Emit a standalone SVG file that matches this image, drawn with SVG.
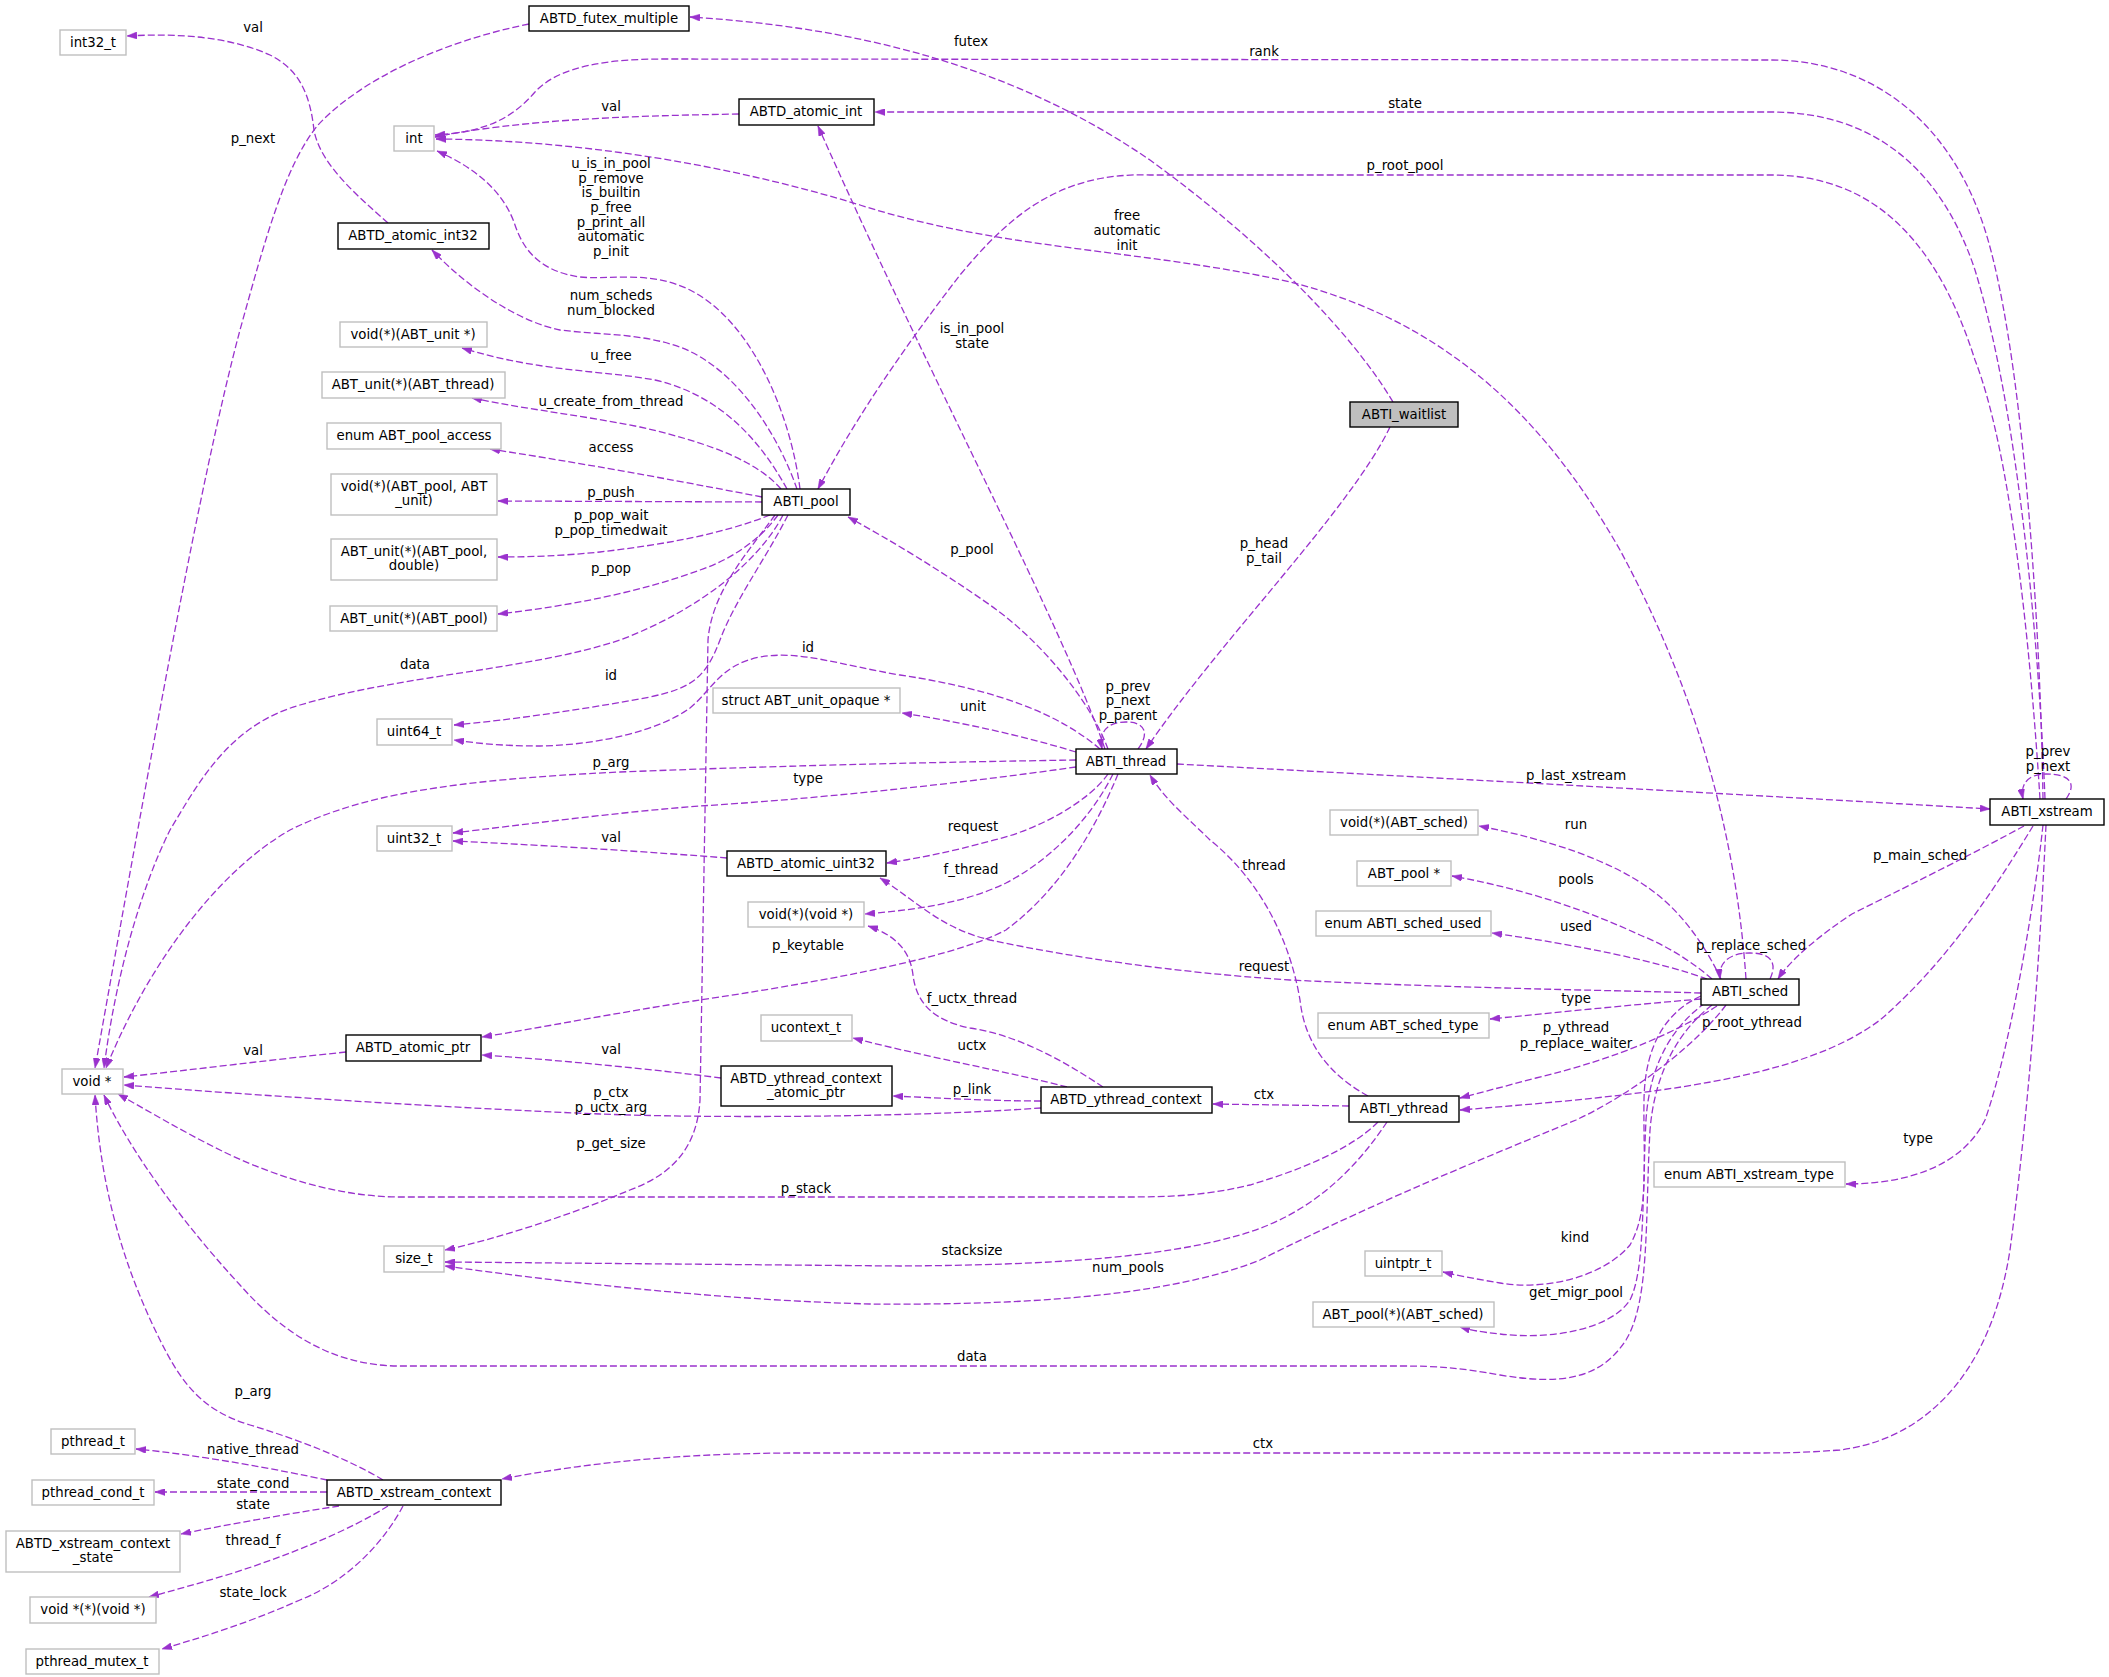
<svg xmlns="http://www.w3.org/2000/svg" width="2109" height="1677" viewBox="0 0 2109 1677">
<style>
text{font-family:"DejaVu Sans","Liberation Sans",sans-serif;font-size:13.3px;fill:#000;text-anchor:middle}
.d{fill:#fff;stroke:#000;stroke-width:1.4}
.u{fill:#fff;stroke:#bfbfbf;stroke-width:1.4}
.g{fill:#bfbfbf;stroke:#000;stroke-width:1.4}
#edges path{fill:none;stroke:#9a32cd;stroke-width:1.3;stroke-dasharray:7,3;marker-end:url(#ah)}
</style>
<defs>
<marker id="ah" viewBox="0 0 10 7" refX="10" refY="3.5" markerWidth="10" markerHeight="7" markerUnits="userSpaceOnUse" orient="auto">
<path d="M0,0 L10,3.5 L0,7 z" fill="#9a32cd" stroke="#9a32cd" stroke-width="0.5"/>
</marker>
</defs>
<rect width="2109" height="1677" fill="#fff"/>
<g id="edges">
<g><path d="M388,223 C360,198 320,165 314,130 C310,95 300,70 270,55 C230,37 180,33 127,36"/><text x="253" y="32">val</text></g>
<g><path d="M529,24 C440,42 360,80 318,125 C285,165 265,240 240,330 C200,480 150,760 95,1068"/><text x="253" y="143">p_next</text></g>
<g><path d="M1393,402 C1350,330 1260,240 1150,160 C1040,85 900,30 690,17"/><text x="971" y="46">futex</text></g>
<g><path d="M1390,427 C1350,510 1220,640 1146,749"/><text x="1264" y="548">p_head</text><text x="1264" y="563">p_tail</text></g>
<g><path d="M2043,799 C2040,600 2020,340 1985,230 C1950,120 1870,60 1771,60 L665,59 C610,59 560,65 535,92 C515,115 490,132 435,135"/><text x="1264" y="56">rank</text></g>
<g><path d="M2045,799 C2038,620 2015,400 1975,270 C1940,165 1870,112 1771,112 L875,112"/><text x="1405" y="108">state</text></g>
<g><path d="M2040,799 C2030,640 2010,450 1975,360 C1940,250 1880,175 1771,175 L1150,175 C1060,172 1010,215 960,275 C910,340 860,410 818,489"/><text x="1405" y="170">p_root_pool</text></g>
<g><path d="M739,114 C620,116 520,120 435,137"/><text x="611" y="111">val</text></g>
<g><path d="M1746,979 C1735,820 1690,680 1620,550 C1540,410 1440,320 1290,282 C1150,250 1000,250 860,205 C720,162 570,140 436,139"/><text x="1127" y="220">free</text><text x="1127" y="235">automatic</text><text x="1127" y="250">init</text></g>
<g><path d="M1105,749 C1060,620 940,400 818,126"/><text x="972" y="333">is_in_pool</text><text x="972" y="348">state</text></g>
<g><path d="M800,489 C790,410 750,320 690,290 C650,270 610,280 580,277 C545,272 525,255 515,225 C505,195 480,170 437,151"/><text x="611" y="168">u_is_in_pool</text><text x="611" y="183">p_remove</text><text x="611" y="197">is_builtin</text><text x="611" y="212">p_free</text><text x="611" y="227">p_print_all</text><text x="611" y="241">automatic</text><text x="611" y="256">p_init</text></g>
<g><path d="M797,489 C780,440 740,370 680,347 C640,333 600,335 560,330 C520,322 470,290 432,250"/><text x="611" y="300">num_scheds</text><text x="611" y="315">num_blocked</text></g>
<g><path d="M787,489 C760,440 720,395 655,380 C600,370 540,372 462,348"/><text x="611" y="360">u_free</text></g>
<g><path d="M781,489 C760,465 720,445 640,427 C580,415 530,410 472,398"/><text x="611" y="406">u_create_from_thread</text></g>
<g><path d="M762,497 C700,485 600,466 490,449"/><text x="611" y="452">access</text></g>
<g><path d="M762,502 L498,501"/><text x="611" y="497">p_push</text></g>
<g><path d="M770,515 C720,535 660,545 600,552 C560,556 530,557 498,557"/><text x="611" y="520">p_pop_wait</text><text x="611" y="535">p_pop_timedwait</text></g>
<g><path d="M778,515 C760,540 730,560 700,570 C640,592 570,606 498,614"/><text x="611" y="573">p_pop</text></g>
<g><path d="M783,515 C760,560 700,610 620,640 C530,670 400,675 300,705 C230,725 200,780 170,830 C140,890 115,980 104,1068"/><text x="415" y="669">data</text></g>
<g><path d="M788,515 C765,560 735,600 720,640 C705,680 690,688 650,697 C580,710 510,720 454,725"/><text x="611" y="680">id</text></g>
<g><path d="M1100,749 C1060,715 1000,690 900,675 C840,665 800,650 760,657 C720,665 712,690 690,708 C660,730 600,745 540,746 C500,746 475,743 454,740"/><text x="808" y="652">id</text></g>
<g><path d="M775,515 C750,550 712,590 708,640 L700,1100 C697,1150 670,1175 630,1190 C570,1215 500,1238 445,1250"/><text x="611" y="1148">p_get_size</text></g>
<g><path d="M1108,749 C1090,700 1040,640 990,605 C940,570 890,540 848,517"/><text x="972" y="554">p_pool</text></g>
<g><path d="M1138,749 C1150,733 1145,722 1126,722 C1106,722 1099,733 1102,749"/><text x="1128" y="691">p_prev</text><text x="1128" y="705">p_next</text><text x="1128" y="720">p_parent</text></g>
<g><path d="M1076,752 C1020,735 960,722 902,713"/><text x="973" y="711">unit</text></g>
<g><path d="M1076,760 C950,762 800,765 620,772 C450,780 360,795 290,830 C220,870 150,960 106,1068"/><text x="611" y="767">p_arg</text></g>
<g><path d="M1076,767 C950,785 800,800 700,806 C620,812 520,825 453,833"/><text x="808" y="783">type</text></g>
<g><path d="M727,858 C650,852 560,846 453,841"/><text x="611" y="842">val</text></g>
<g><path d="M1108,774 C1090,800 1040,830 990,841 C950,852 920,858 887,863"/><text x="973" y="831">request</text></g>
<g><path d="M1113,774 C1090,820 1050,860 1006,883 C960,905 910,910 865,914"/><text x="971" y="874">f_thread</text></g>
<g><path d="M1118,774 C1095,830 1060,890 1006,930 C950,960 800,985 700,1000 C620,1012 540,1028 482,1037"/><text x="808" y="950">p_keytable</text></g>
<g><path d="M721,1078 C660,1070 560,1060 482,1055"/><text x="611" y="1054">val</text></g>
<g><path d="M346,1052 C270,1060 190,1070 124,1077"/><text x="253" y="1055">val</text></g>
<g><path d="M1041,1108 C900,1118 700,1118 600,1114 C450,1108 250,1095 124,1085"/><text x="611" y="1097">p_ctx</text><text x="611" y="1112">p_uctx_arg</text></g>
<g><path d="M1041,1101 C990,1101 940,1098 893,1096"/><text x="972" y="1094">p_link</text></g>
<g><path d="M1067,1087 C1010,1072 930,1058 853,1038"/><text x="972" y="1050">uctx</text></g>
<g><path d="M1103,1087 C1070,1065 1020,1035 970,1028 C930,1020 916,1000 913,975 C910,950 895,935 868,926"/><text x="972" y="1003">f_uctx_thread</text></g>
<g><path d="M1349,1106 L1213,1104"/><text x="1264" y="1099">ctx</text></g>
<g><path d="M1368,1096 C1330,1075 1305,1045 1300,1000 C1290,940 1260,880 1210,840 C1190,820 1165,800 1150,775"/><text x="1264" y="870">thread</text></g>
<g><path d="M1378,1122 C1350,1150 1300,1170 1250,1185 C1200,1197 1160,1197 1120,1197 L400,1197 C330,1197 260,1170 220,1150 C180,1130 150,1112 118,1094"/><text x="806" y="1193">p_stack</text></g>
<g><path d="M1387,1122 C1355,1170 1310,1215 1240,1235 C1160,1258 1050,1265 900,1266 L445,1262"/><text x="972" y="1255">stacksize</text></g>
<g><path d="M1726,1005 C1700,1040 1640,1090 1576,1120 C1480,1160 1380,1200 1260,1260 C1160,1300 1000,1305 870,1304 C720,1300 560,1282 445,1266"/><text x="1128" y="1272">num_pools</text></g>
<g><path d="M1177,764 C1400,776 1700,792 1990,809"/><text x="1576" y="780">p_last_xstream</text></g>
<g><path d="M1721,979 C1705,945 1680,910 1650,889 C1610,860 1550,840 1479,826"/><text x="1576" y="829">run</text></g>
<g><path d="M1712,979 C1690,960 1665,945 1640,935 C1590,912 1530,890 1452,876"/><text x="1576" y="884">pools</text></g>
<g><path d="M1707,979 C1660,962 1580,945 1492,933"/><text x="1576" y="931">used</text></g>
<g><path d="M1701,993 C1600,990 1450,988 1290,980 C1170,972 1070,957 990,940 C940,928 915,900 880,878"/><text x="1264" y="971">request</text></g>
<g><path d="M1701,999 C1630,1005 1560,1012 1490,1019"/><text x="1576" y="1003">type</text></g>
<g><path d="M1717,1006 C1680,1030 1620,1058 1536,1078 C1510,1085 1490,1090 1460,1098"/><text x="1576" y="1032">p_ythread</text><text x="1576" y="1048">p_replace_waiter</text></g>
<g><path d="M2033,826 C2000,880 1950,960 1880,1020 C1800,1080 1650,1095 1460,1110"/><text x="1752" y="1027">p_root_ythread</text></g>
<g><path d="M2024,826 C1980,850 1920,880 1852,914 C1820,935 1790,960 1778,979"/><text x="1920" y="860">p_main_sched</text></g>
<g><path d="M1770,979 C1778,962 1770,953 1750,953 C1730,953 1718,962 1720,979"/><text x="1751" y="950">p_replace_sched</text></g>
<g><path d="M1701,996 C1670,1010 1645,1040 1644,1100 C1643,1160 1650,1210 1630,1245 C1600,1280 1540,1290 1500,1283 C1470,1278 1455,1275 1443,1272"/><text x="1575" y="1242">kind</text></g>
<g><path d="M1705,1003 C1675,1025 1650,1060 1646,1120 C1642,1200 1645,1270 1630,1300 C1610,1330 1550,1340 1500,1334 C1480,1332 1470,1330 1460,1327"/><text x="1576" y="1297">get_migr_pool</text></g>
<g><path d="M1712,1005 C1680,1030 1655,1070 1650,1130 C1645,1220 1650,1300 1626,1340 C1600,1380 1560,1385 1500,1375 C1460,1368 1440,1366 1400,1366 L400,1366 C330,1366 280,1330 240,1285 C180,1220 130,1150 104,1095"/><text x="972" y="1361">data</text></g>
<g><path d="M383,1480 C350,1460 300,1440 250,1425 C200,1410 180,1380 160,1340 C120,1260 100,1180 95,1095"/><text x="253" y="1396">p_arg</text></g>
<g><path d="M2046,825 C2040,950 2030,1100 2010,1250 C1990,1380 1920,1440 1840,1450 C1800,1453 1780,1453 1750,1453 L800,1453 C700,1453 600,1460 502,1479"/><text x="1263" y="1448">ctx</text></g>
<g><path d="M2043,825 C2035,900 2010,1050 1985,1120 C1960,1170 1900,1184 1846,1184"/><text x="1918" y="1143">type</text></g>
<g><path d="M2066,799 C2078,782 2068,774 2046,774 C2028,774 2020,784 2023,799"/><text x="2048" y="756">p_prev</text><text x="2048" y="771">p_next</text></g>
<g><path d="M327,1480 C280,1470 200,1455 136,1449"/><text x="253" y="1454">native_thread</text></g>
<g><path d="M327,1492 L155,1492"/><text x="253" y="1488">state_cond</text></g>
<g><path d="M339,1506 C300,1512 240,1522 181,1534"/><text x="253" y="1509">state</text></g>
<g><path d="M388,1506 C350,1530 290,1555 230,1574 C200,1583 175,1590 149,1597"/><text x="253" y="1545">thread_f</text></g>
<g><path d="M403,1506 C385,1540 350,1580 300,1600 C250,1622 210,1635 162,1649"/><text x="253" y="1597">state_lock</text></g>
</g>
<g id="n_int32_t"><rect class="u" x="60" y="30" width="66" height="25"/><text x="93" y="47">int32_t</text></g>
<g id="n_ABTD_futex_multiple"><rect class="d" x="529" y="6" width="160" height="25"/><text x="609" y="23">ABTD_futex_multiple</text></g>
<g id="n_int"><rect class="u" x="394" y="126" width="40" height="25"/><text x="414" y="143">int</text></g>
<g id="n_ABTD_atomic_int"><rect class="d" x="739" y="99" width="135" height="26"/><text x="806" y="116">ABTD_atomic_int</text></g>
<g id="n_ABTD_atomic_int32"><rect class="d" x="338" y="223" width="151" height="26"/><text x="413" y="240">ABTD_atomic_int32</text></g>
<g id="n_void_unit"><rect class="u" x="340" y="322" width="147" height="25"/><text x="413" y="339">void(*)(ABT_unit *)</text></g>
<g id="n_unit_thread"><rect class="u" x="322" y="372" width="183" height="26"/><text x="413" y="389">ABT_unit(*)(ABT_thread)</text></g>
<g id="n_pool_access"><rect class="u" x="327" y="423" width="174" height="26"/><text x="414" y="440">enum ABT_pool_access</text></g>
<g id="n_void_pool_unit"><rect class="u" x="331" y="474" width="166" height="41"/><text x="414" y="491">void(*)(ABT_pool, ABT</text><text x="414" y="505">_unit)</text></g>
<g id="n_unit_pool_double"><rect class="u" x="331" y="539" width="166" height="41"/><text x="414" y="556">ABT_unit(*)(ABT_pool,</text><text x="414" y="570">double)</text></g>
<g id="n_unit_pool"><rect class="u" x="330" y="606" width="167" height="25"/><text x="414" y="623">ABT_unit(*)(ABT_pool)</text></g>
<g id="n_ABTI_pool"><rect class="d" x="762" y="489" width="88" height="26"/><text x="806" y="506">ABTI_pool</text></g>
<g id="n_ABTI_waitlist"><rect class="g" x="1350" y="402" width="108" height="25"/><text x="1404" y="419">ABTI_waitlist</text></g>
<g id="n_uint64_t"><rect class="u" x="377" y="719" width="75" height="26"/><text x="414" y="736">uint64_t</text></g>
<g id="n_unit_opaque"><rect class="u" x="713" y="688" width="187" height="25"/><text x="806" y="705">struct ABT_unit_opaque *</text></g>
<g id="n_ABTI_thread"><rect class="d" x="1076" y="749" width="101" height="25"/><text x="1126" y="766">ABTI_thread</text></g>
<g id="n_uint32_t"><rect class="u" x="377" y="826" width="75" height="25"/><text x="414" y="843">uint32_t</text></g>
<g id="n_ABTD_atomic_uint32"><rect class="d" x="727" y="851" width="159" height="25"/><text x="806" y="868">ABTD_atomic_uint32</text></g>
<g id="n_void_void"><rect class="u" x="748" y="902" width="116" height="25"/><text x="806" y="919">void(*)(void *)</text></g>
<g id="n_ucontext_t"><rect class="u" x="761" y="1015" width="91" height="26"/><text x="806" y="1032">ucontext_t</text></g>
<g id="n_ABTD_atomic_ptr"><rect class="d" x="346" y="1035" width="135" height="26"/><text x="413" y="1052">ABTD_atomic_ptr</text></g>
<g id="n_void_ptr"><rect class="u" x="62" y="1069" width="61" height="25"/><text x="92" y="1086">void *</text></g>
<g id="n_ythread_ctx_atomic_ptr"><rect class="d" x="721" y="1066" width="171" height="40"/><text x="806" y="1083">ABTD_ythread_context</text><text x="806" y="1097">_atomic_ptr</text></g>
<g id="n_ABTD_ythread_context"><rect class="d" x="1041" y="1087" width="171" height="26"/><text x="1126" y="1104">ABTD_ythread_context</text></g>
<g id="n_ABTI_ythread"><rect class="d" x="1349" y="1096" width="110" height="26"/><text x="1404" y="1113">ABTI_ythread</text></g>
<g id="n_void_sched"><rect class="u" x="1330" y="810" width="148" height="25"/><text x="1404" y="827">void(*)(ABT_sched)</text></g>
<g id="n_ABT_pool_ptr"><rect class="u" x="1357" y="861" width="94" height="25"/><text x="1404" y="878">ABT_pool *</text></g>
<g id="n_sched_used"><rect class="u" x="1316" y="911" width="175" height="25"/><text x="1403" y="928">enum ABTI_sched_used</text></g>
<g id="n_sched_type"><rect class="u" x="1318" y="1013" width="171" height="25"/><text x="1403" y="1030">enum ABT_sched_type</text></g>
<g id="n_ABTI_sched"><rect class="d" x="1701" y="979" width="98" height="26"/><text x="1750" y="996">ABTI_sched</text></g>
<g id="n_ABTI_xstream"><rect class="d" x="1990" y="799" width="114" height="26"/><text x="2047" y="816">ABTI_xstream</text></g>
<g id="n_xstream_type"><rect class="u" x="1654" y="1162" width="191" height="25"/><text x="1749" y="1179">enum ABTI_xstream_type</text></g>
<g id="n_size_t"><rect class="u" x="384" y="1246" width="60" height="26"/><text x="414" y="1263">size_t</text></g>
<g id="n_uintptr_t"><rect class="u" x="1365" y="1251" width="77" height="25"/><text x="1403" y="1268">uintptr_t</text></g>
<g id="n_pool_sched"><rect class="u" x="1313" y="1302" width="181" height="25"/><text x="1403" y="1319">ABT_pool(*)(ABT_sched)</text></g>
<g id="n_pthread_t"><rect class="u" x="51" y="1429" width="84" height="25"/><text x="93" y="1446">pthread_t</text></g>
<g id="n_pthread_cond_t"><rect class="u" x="32" y="1480" width="122" height="25"/><text x="93" y="1497">pthread_cond_t</text></g>
<g id="n_ABTD_xstream_context"><rect class="d" x="327" y="1480" width="174" height="25"/><text x="414" y="1497">ABTD_xstream_context</text></g>
<g id="n_xstream_context_state"><rect class="u" x="6" y="1531" width="174" height="41"/><text x="93" y="1548">ABTD_xstream_context</text><text x="93" y="1562">_state</text></g>
<g id="n_void_ptr_fn"><rect class="u" x="30" y="1597" width="126" height="26"/><text x="93" y="1614">void *(*)(void *)</text></g>
<g id="n_pthread_mutex_t"><rect class="u" x="26" y="1649" width="133" height="25"/><text x="92" y="1666">pthread_mutex_t</text></g>
</svg>
